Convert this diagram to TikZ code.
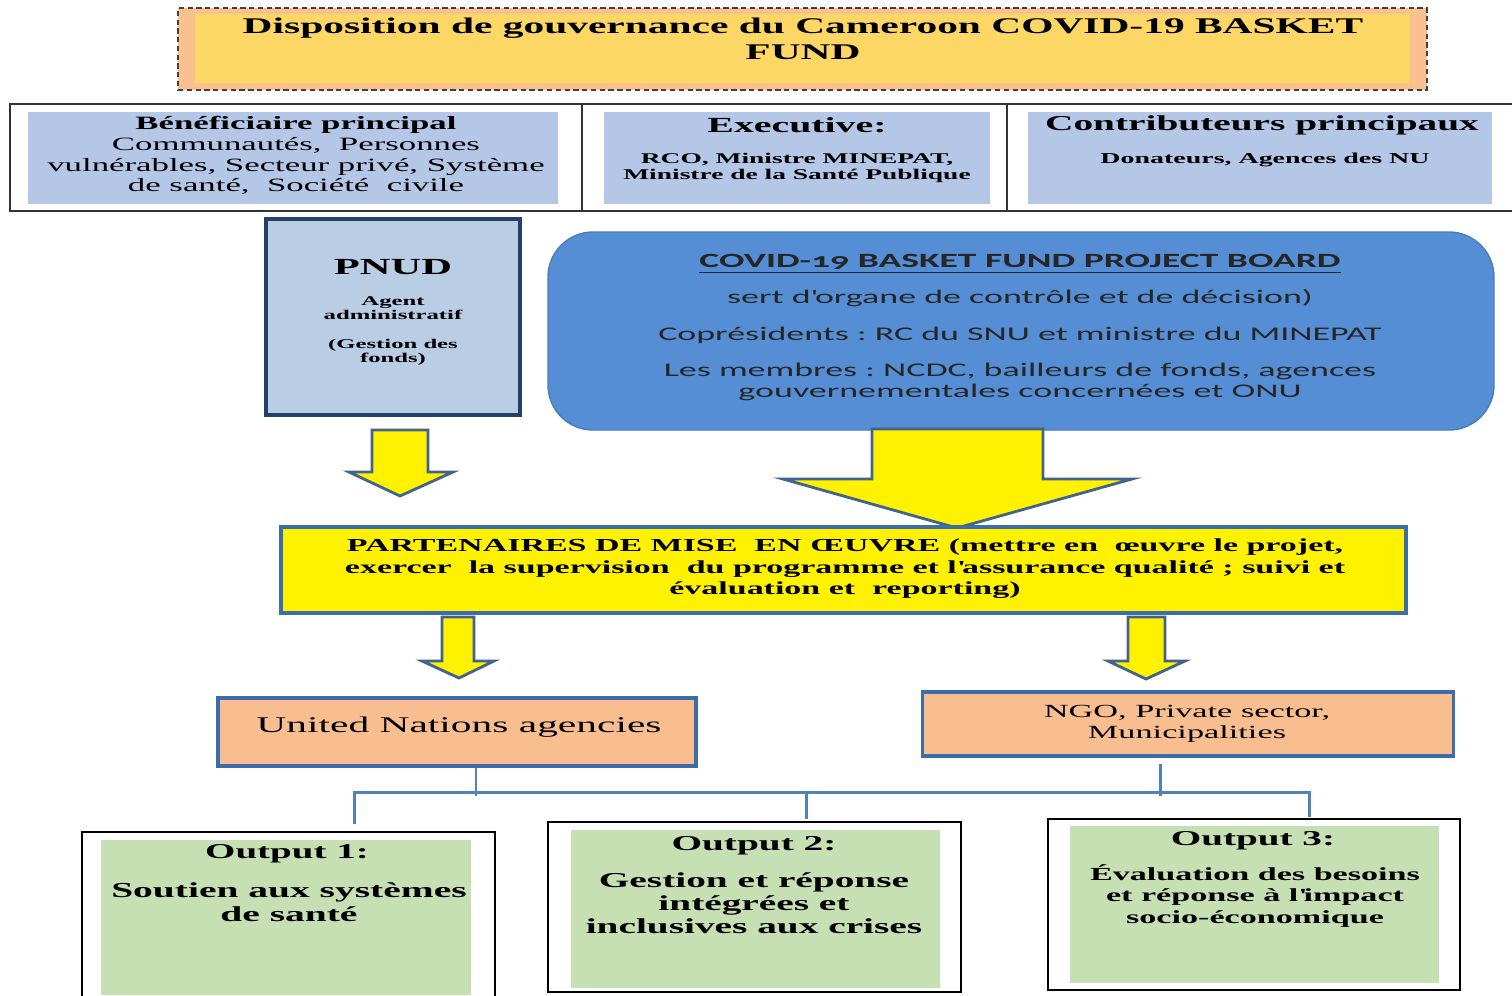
\documentclass[tikz,border=0pt]{standalone}
\usepackage{fontspec}
\setmainfont[FakeStretch=1.85]{Liberation Serif}
\newfontfamily\boardfont[FakeStretch=1.86]{Carlito}
\usetikzlibrary{calc}

\definecolor{titleorange}{HTML}{F9C18F}
\definecolor{titleyellow}{HTML}{FDD766}
\definecolor{headblue}{HTML}{B4C7E7}
\definecolor{pnudblue}{HTML}{B9CDE5}
\definecolor{pnudedge}{HTML}{22406A}
\definecolor{boardblue}{HTML}{558ED5}
\definecolor{boardedge}{HTML}{4A7EBB}
\definecolor{arrowedge}{HTML}{41638C}
\definecolor{partedge}{HTML}{3B6DAA}
\definecolor{peach}{HTML}{F9BE8F}
\definecolor{linkblue}{HTML}{4F81BD}
\definecolor{outgreen}{HTML}{C6E0B4}

\newcommand\fsz[2]{\fontsize{#1}{#2}\selectfont}
\newcommand\sq{\textquotesingle}

\begin{document}
\begin{tikzpicture}[x=0.02cm, y=-0.02cm,
    size/.style 2 args={minimum width=#1*0.02cm, minimum height=#2*0.02cm, inner sep=0pt},
    blockarrow/.style={fill=yellow, draw=arrowedge, line width=1.6pt},
    link/.style={draw=linkblue, line width=1.7pt},
    peachbox/.style={fill=peach, draw=partedge, line width=2pt},
    outframe/.style={fill=white, draw=black, line width=1.2pt},
    txt/.style={align=center, inner sep=0pt}]
\useasboundingbox (0,0) rectangle (1512,995);

% titre
\node[size={1249}{82}, fill=titleorange, draw=black!75, dash pattern=on 3pt off 2pt, line width=1.2pt] (titleframe) at (802.5,49) {};
\node[size={1215}{69}, fill=titleyellow] (titlefill) at (802.5,48.5) {};
\node[txt, font=\fsz{12.75}{14.7}\bfseries] (title) at (803,39) {Disposition de gouvernance du Cameroon COVID-19 BASKET\\FUND};

% en-tete
\draw[line width=1.5pt, black!80] (10,104) rectangle (1530,211) (582,104) -- (582,211) (1007,104) -- (1007,211);
\node[size={530}{92}, fill=headblue] (benef) at (293,158) {};
\node[size={386}{92}, fill=headblue] (exec) at (797,158) {};
\node[size={464}{92}, fill=headblue] (contrib) at (1260,158) {};
\node[txt, font=\fsz{10.7}{11.8}] (beneftxt) at (296,155.5) {\textbf{Bénéficiaire principal}\\Communautés,\ \ Personnes\\vulnérables, Secteur privé, Système\\de santé,\ \ Société\ \ civile};
\node[txt, font=\fsz{12.25}{14}\bfseries] (exectitle) at (797,125) {Executive:};
\node[txt, font=\fsz{8.45}{9}\bfseries] (exectxt) at (797,168) {RCO, Ministre MINEPAT,\\Ministre de la Santé Publique};
\node[txt, font=\fsz{12.1}{14}\bfseries] (contribtitle) at (1262,125) {Contributeurs principaux};
\node[txt, font=\fsz{8.6}{10}\bfseries] (contribtxt) at (1265,160) {Donateurs, Agences des NU};

% PNUD et board
\node[size={254}{196}, fill=pnudblue, draw=pnudedge, line width=2.5pt] (pnud) at (393,317) {};
\node[txt, font=\fsz{13.1}{15}\bfseries] (pnudtitle) at (393,267) {PNUD};
\node[txt, font=\fsz{7.6}{8}\bfseries] (pnudtxt) at (393,331) {Agent\\administratif\\[8pt](Gestion des\\fonds)};
\node[size={946}{198}, fill=boardblue, draw=boardedge, line width=0.8pt, rounded corners=0.9cm] (board) at (1021,331) {};
\node[txt, font=\boardfont\fsz{11}{12.5}, text=black!85] (boardtxt) at (1020,328) {\underline{\textbf{\fsz{11.5}{12.5}COVID-\addfontfeature{Numbers=OldStyle}19 BASKET FUND PROJECT BOARD}}\\[8pt]sert d\sq organe de contrôle et de décision)\\[8pt]Coprésidents :\ RC du SNU et ministre du MINEPAT\\[8pt]Les membres :\ NCDC, bailleurs de fonds,\ agences\\gouvernementales concernées et ONU};

% fleches
\filldraw[blockarrow] (372,430) -- (372,472) -- (349,472) -- (400,496) -- (453,472) -- (428,472) -- (428,430) -- cycle;
\filldraw[blockarrow] (872,429) -- (872,479) -- (783,479) -- (957,528) -- (1132,479) -- (1043,479) -- (1043,429) -- cycle;

% partenaires
\node[size={1125}{86}, fill=yellow, draw=partedge, line width=2pt] (partners) at (843.5,570) {};
\node[txt, font=\fsz{10.45}{12.3}\bfseries] (partnerstxt) at (845,569) {PARTENAIRES DE MISE\ \ EN ŒUVRE (mettre en\ \ œuvre le projet,\\exercer\ \ la supervision\ \ du programme et l\sq assurance qualité\ ; suivi et\\évaluation et\ \ reporting)};

\filldraw[blockarrow] (442,617) -- (442,661) -- (422,661) -- (459,678) -- (494,661) -- (474,661) -- (474,617) -- cycle;
\filldraw[blockarrow] (1128,617) -- (1128,661) -- (1108,661) -- (1146,679) -- (1185,661) -- (1165,661) -- (1165,617) -- cycle;

% agences
\node[size={478}{68}, peachbox] (un) at (457,732) {};
\node[txt, font=\fsz{12.75}{15}] (untxt) at (459,727) {United Nations agencies};
\node[size={531}{64}, peachbox] (ngo) at (1188,724) {};
\node[txt, font=\fsz{10.55}{12}] (ngotxt) at (1187,724) {NGO, Private sector,\\Municipalities};

% outputs
\node[size={413}{168}, outframe] (out1frame) at (288.5,916) {};
\node[size={370}{155}, fill=outgreen] (out1) at (286,917) {};
\node[size={413}{170}, outframe] (out2frame) at (754.5,907) {};
\node[size={369}{158}, fill=outgreen] (out2) at (755.5,909) {};
\node[size={412}{171}, outframe] (out3frame) at (1254,904.5) {};
\node[size={369}{157}, fill=outgreen] (out3) at (1254.5,904.5) {};
\node[txt, font=\fsz{12}{14}\bfseries] (out1title) at (287,854) {Output 1:};
\node[txt, font=\fsz{12.15}{13.6}\bfseries] (out1txt) at (289,902) {Soutien aux systèmes\\de santé};
\node[txt, font=\fsz{12.1}{14}\bfseries] (out2title) at (754,846) {Output 2:};
\node[txt, font=\fsz{12.1}{13}\bfseries] (out2txt) at (754,903) {Gestion et réponse\\intégrées et\\inclusives aux crises};
\node[txt, font=\fsz{12.05}{13}\bfseries] (out3title) at (1253,841) {Output 3:};
\node[txt, font=\fsz{10.5}{12}\bfseries] (out3txt) at (1255,896) {Évaluation des besoins\\et réponse à\ l\sq impact\\socio-économique};

% liaisons
\draw[link] ($(un.south)+(19,0)$) -- ($(un.south)+(19,28)$);
\draw[link] ($(ngo.south)+(-28,6)$) -- ($(ngo.south)+(-28,38)$);
\draw[link] ($(out1frame.north)+(66,-7)$) |- ($(out3frame.north)+(55,-25)$) -- ($(out3frame.north)+(55,-1)$);
\draw[link] ($(out2frame.north)+(52,-2)$) -- ($(out2frame.north)+(52,-28)$);
\end{tikzpicture}
\end{document}
